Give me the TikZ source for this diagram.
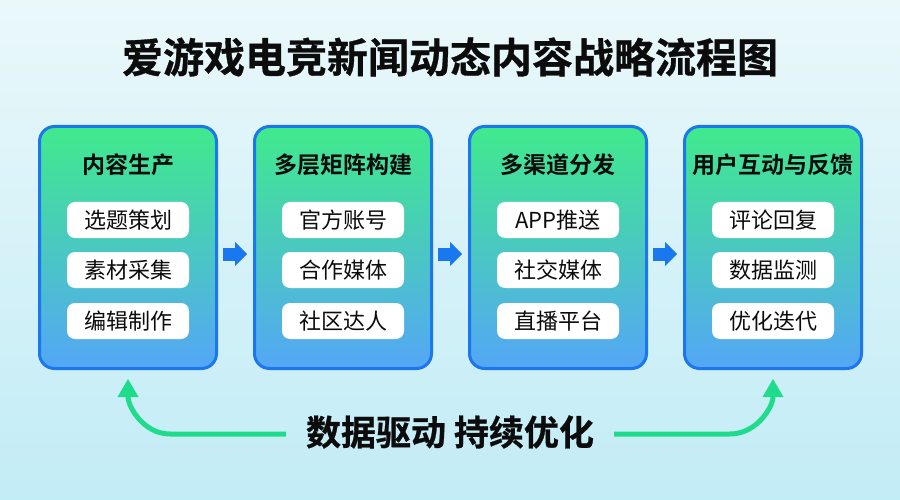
\documentclass[tikz,border=0pt]{standalone}
\usepackage{fontspec}
\setmainfont{Noto Sans CJK SC}[BoldFont={Noto Sans CJK SC Bold}]
\newfontfamily\heavyfont{Noto Sans CJK SC Bold}[FakeBold=0.8]
\usetikzlibrary{arrows.meta,calc}
\definecolor{bgtop}{RGB}{234,248,250}
\definecolor{bgbot}{RGB}{194,236,246}
\definecolor{boxtop}{RGB}{64,234,140}
\definecolor{boxmid}{RGB}{56,212,188}
\definecolor{boxbot}{RGB}{84,166,246}
\definecolor{boxborder}{RGB}{28,118,238}
\definecolor{flowblue}{RGB}{25,120,240}
\definecolor{fbgreen}{RGB}{30,220,140}
\definecolor{ink}{RGB}{12,12,12}
\begin{document}
\begin{tikzpicture}[x=1pt,y=1pt,
  titletext/.style={inner sep=0pt, text=ink, font=\fontsize{41}{46}\heavyfont},
  box/.style={draw=boxborder, line width=3pt, rounded corners=15pt,
    minimum width=177pt, minimum height=242pt, inner sep=0pt,
    top color=boxtop, middle color=boxmid, bottom color=boxbot},
  head/.style={inner sep=0pt, text=ink, font=\fontsize{23}{27}\selectfont\bfseries},
  pill/.style={fill=white, rounded corners=8pt, minimum width=122pt,
    minimum height=36pt, inner sep=0pt, text=ink, font=\fontsize{22}{26}\selectfont},
  flow/.style={draw=flowblue, line width=13pt,
    -{Triangle[line width=0pt, length=12pt, width=24pt]}},
  fb/.style={draw=fbgreen, line width=5pt,
    -{Triangle[line width=0pt, length=18pt, width=21pt]}},
  slogan/.style={inner sep=0pt, text=ink, font=\fontsize{35}{40}\heavyfont}]
\useasboundingbox (0,0) rectangle (900,499);
\shade[top color=bgtop, bottom color=bgbot] (0,0) rectangle (900,499);

\node[titletext] (title) at (450,442) {爱游戏电竞新闻动态内容战略流程图};

% boxes
\node[box] (b1) at (128,251.5) {};
\node[box] (b2) at (343,251.5) {};
\node[box] (b3) at (558,251.5) {};
\node[box] (b4) at (773,251.5) {};

% headers
\node[head] (h1) at (128,334) {内容生产};
\node[head] (h2) at (343,334) {多层矩阵构建};
\node[head] (h3) at (558,334) {多渠道分发};
\node[head] (h4) at (773,334) {用户互动与反馈};

% pills
\node[pill] (p11) at (128,279) {选题策划};
\node[pill] (p12) at (128,229) {素材采集};
\node[pill] (p13) at (128,178) {编辑制作};
\node[pill] (p21) at (343,279) {官方账号};
\node[pill] (p22) at (343,229) {合作媒体};
\node[pill] (p23) at (343,178) {社区达人};
\node[pill] (p31) at (558,279) {APP推送};
\node[pill] (p32) at (558,229) {社交媒体};
\node[pill] (p33) at (558,178) {直播平台};
\node[pill] (p41) at (773,279) {评论回复};
\node[pill] (p42) at (773,229) {数据监测};
\node[pill] (p43) at (773,178) {优化迭代};

% flow arrows
\draw[flow] ([shift={(5pt,-6.5pt)}]b1.east) -- ([shift={(-6pt,-6.5pt)}]b2.west);
\draw[flow] ([shift={(5pt,-6.5pt)}]b2.east) -- ([shift={(-6pt,-6.5pt)}]b3.west);
\draw[flow] ([shift={(5pt,-6.5pt)}]b3.east) -- ([shift={(-6pt,-6.5pt)}]b4.west);

% slogan and feedback arrows
\node[slogan] (txt) at (450,67) {数据驱动 持续优化};
\coordinate (lc) at ($(b1.south |- txt.west)+(42pt,-2pt)$);
\coordinate (rc) at ($(b4.south |- txt.east)+(-43pt,-2pt)$);
\draw[fb] ([shift={(-20pt,-2pt)}]txt.west) -- (lc) to[out=180,in=-90] ([yshift=-9pt]b1.south);
\draw[fb] ([shift={(20pt,-2pt)}]txt.east) -- (rc) to[out=0,in=-90] ([yshift=-9pt]b4.south);
\end{tikzpicture}
\end{document}
